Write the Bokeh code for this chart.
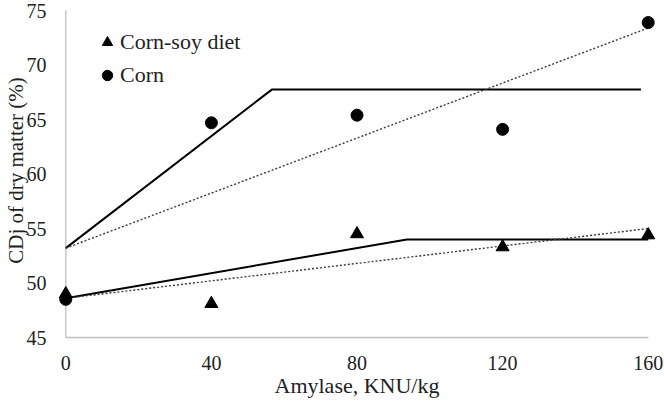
from bokeh.plotting import figure
from bokeh.models import Range1d, Legend, LegendItem, FixedTicker
from bokeh.embed import file_html
from bokeh.resources import INLINE

# ---- data ----
amylase = [0, 40, 80, 120, 160]
corn_soy = [49.0, 48.1, 54.5, 53.3, 54.4]
corn = [48.5, 64.7, 65.4, 64.1, 73.9]

# broken-line fits
corn_soy_bl_x = [0, 93.7, 160]
corn_soy_bl_y = [48.6, 54.0, 54.0]
corn_bl_x = [0, 56.6, 158]
corn_bl_y = [53.2, 67.75, 67.75]

# linear fits
lin_x = [0, 160]
corn_soy_lin_y = [48.6, 55.0]
corn_lin_y = [53.2, 73.4]

x_ticks = [0, 40, 80, 120, 160]
y_ticks = [45, 50, 55, 60, 65, 70, 75]

FONT = "'Liberation Serif', serif"
AXIS_GRAY = "#bfbfbf"
TEXT = "#222222"

p = figure(output_backend="svg", toolbar_location=None,
           frame_width=597, frame_height=334,
           min_border_left=58, min_border_right=9,
           min_border_top=3, min_border_bottom=68,
           x_range=Range1d(-2, 162), y_range=Range1d(45, 75.65))
p.outline_line_color = None
p.xgrid.visible = False
p.ygrid.visible = False

# y-axis line at x = 0 (axis itself sits at frame edge)
p.segment(x0=[x_ticks[0]], y0=[y_ticks[0]], x1=[x_ticks[0]], y1=[y_ticks[-1]],
          line_color=AXIS_GRAY, line_width=1.3)

# fitted lines
p.line(corn_bl_x, corn_bl_y, line_color="black", line_width=2)
p.line(corn_soy_bl_x, corn_soy_bl_y, line_color="black", line_width=2)
p.line(lin_x, corn_lin_y, line_color="#3a3a3a", line_width=1.4, line_dash="2 2")
p.line(lin_x, corn_soy_lin_y, line_color="#3a3a3a", line_width=1.4, line_dash="2 2")

# points
r_cs = p.scatter(amylase, corn_soy, marker="triangle", size=13, color="black")
r_c = p.scatter(amylase, corn, marker="circle", size=12, color="black")

# axes
for ax in (p.xaxis[0], p.yaxis[0]):
    ax.major_tick_line_color = None
    ax.minor_tick_line_color = None
    ax.major_tick_out = 0
    ax.major_tick_in = 0
    ax.minor_tick_out = 0
    ax.minor_tick_in = 0
    ax.major_label_text_font = FONT
    ax.major_label_text_font_size = "20px"
    ax.major_label_text_color = TEXT
    ax.axis_label_text_font = FONT
    ax.axis_label_text_font_size = "22px"
    ax.axis_label_text_font_style = "normal"
    ax.axis_label_text_color = TEXT

p.xaxis[0].ticker = FixedTicker(ticks=x_ticks)
p.yaxis[0].ticker = FixedTicker(ticks=y_ticks)
p.xaxis[0].bounds = (0, 160)
p.xaxis[0].axis_line_color = AXIS_GRAY
p.xaxis[0].axis_line_width = 1.3
p.yaxis[0].axis_line_color = None
p.xaxis[0].axis_label = "Amylase, KNU/kg"
p.yaxis[0].axis_label = "CDj of dry matter (%)"
p.yaxis[0].axis_label_text_font_size = "21px"
p.xaxis[0].major_label_standoff = 18
p.xaxis[0].axis_label_standoff = 0
p.yaxis[0].major_label_standoff = 12
p.yaxis[0].axis_label_standoff = -4

legend = Legend(items=[LegendItem(label="Corn-soy diet", renderers=[r_cs]),
                       LegendItem(label="Corn", renderers=[r_c])],
                location=(36, 247), orientation="vertical")
legend.background_fill_alpha = 0
legend.border_line_color = None
legend.padding = 0
legend.margin = 0
legend.spacing = 3
legend.glyph_width = 26
legend.glyph_height = 30
legend.label_height = 30
legend.label_standoff = 0
legend.label_text_font = FONT
legend.label_text_font_size = "22px"
legend.label_text_color = TEXT
p.add_layout(legend, "center")

open("out.html", "w").write(file_html(p, INLINE))
